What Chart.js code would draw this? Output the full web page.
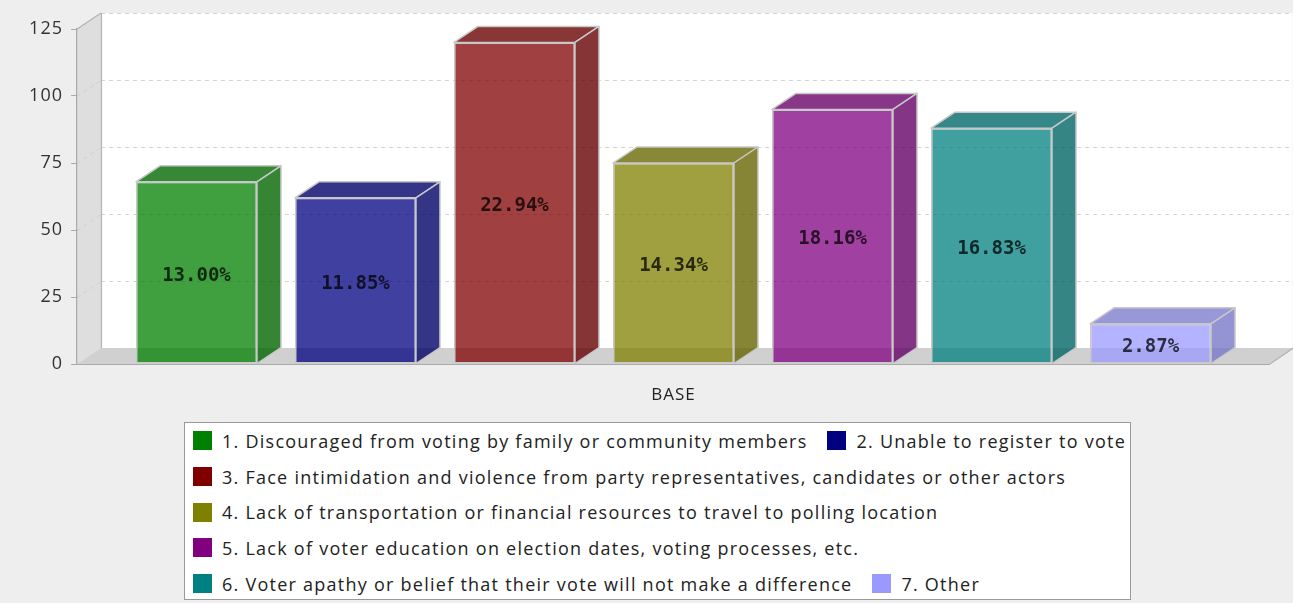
<!DOCTYPE html>
<html>
<head>
<meta charset="utf-8">
<script src="https://cdn.jsdelivr.net/npm/chart.js@4.4.1/dist/chart.umd.min.js"></script>
<style>
  html, body { margin: 0; padding: 0; background: #eeeeee; }
  #wrap { position: relative; width: 1293px; height: 603px; overflow: hidden; }
  #chart { position: absolute; left: 0; top: 0; }
  #legendBox {
    position: absolute; left: 184px; top: 422px; width: 947px; height: 178px;
    background: #fff; border: 1px solid #999; box-sizing: border-box;
  }
  #legend {
    position: absolute; left: 8px; top: 0; width: 980px;
    display: flex; flex-wrap: wrap; align-content: flex-start; column-gap: 20px;
    font-family: "Open Sans", sans-serif; font-size: 18px; letter-spacing: 1.25px; color: #222;
  }
  .item { display: flex; align-items: center; height: 35.7px; white-space: nowrap; }
  .swatch { width: 19px; height: 19px; margin-right: 10px; }
</style>
</head>
<body>
<div id="wrap">
  <canvas id="chart" width="1293" height="412"></canvas>
  <div id="legendBox"><div id="legend"></div></div>
</div>
<script>
const categories = ["BASE"];
const causeLabels = [
  "1. Discouraged from voting by family or community members",
  "2. Unable to register to vote",
  "3. Face intimidation and violence from party representatives, candidates or other actors",
  "4. Lack of transportation or financial resources to travel to polling location",
  "5. Lack of voter education on election dates, voting processes, etc.",
  "6. Voter apathy or belief that their vote will not make a difference",
  "7. Other"
];
const causeCounts = [68, 62, 120, 75, 95, 88, 15];
const causeColors = ["#008000", "#000080", "#800000", "#808000", "#800080", "#008080", "#9999ff"];
const yTicks = [0, 25, 50, 75, 100, 125];

// depth of the fake 3D extrusion
const DX = 24;
const DY = -16;

const total = causeCounts.reduce((s, v) => s + v, 0);

function rgba(hex, a) {
  const n = parseInt(hex.slice(1), 16);
  return `rgba(${n >> 16}, ${(n >> 8) & 255}, ${n & 255}, ${a})`;
}

function poly(ctx, pts) {
  ctx.beginPath();
  ctx.moveTo(pts[0][0], pts[0][1]);
  for (let i = 1; i < pts.length; i++) ctx.lineTo(pts[i][0], pts[i][1]);
  ctx.closePath();
}

const wallsPlugin = {
  id: "walls",
  beforeDraw(chart) {
    const { ctx, chartArea: a } = chart;
    const y = chart.scales.y;
    // axis text is drawn a little spaced out
    ctx.letterSpacing = "1px";
    ctx.save();
    ctx.fillStyle = "#eeeeee";
    ctx.fillRect(0, 0, chart.width, chart.height);

    // back wall
    ctx.fillStyle = "#ffffff";
    ctx.fillRect(a.left + DX, a.top + DY, a.right - a.left, a.bottom - a.top);

    // left wall
    ctx.fillStyle = "#dedede";
    poly(ctx, [[a.left, a.top], [a.left + DX, a.top + DY], [a.left + DX, a.bottom + DY], [a.left, a.bottom]]);
    ctx.fill();

    // floor
    ctx.fillStyle = "#d0d0d0";
    poly(ctx, [[a.left, a.bottom], [a.left + DX, a.bottom + DY], [a.right + DX, a.bottom + DY], [a.right, a.bottom]]);
    ctx.fill();

    // dashed grid lines on the back wall and across the left wall
    ctx.lineWidth = 1;
    ctx.setLineDash([4, 4]);
    yTicks.forEach(v => {
      if (v === 0) return;
      const py = Math.round(y.getPixelForValue(v)) + 0.5;
      ctx.strokeStyle = "#d4d4d4";
      ctx.beginPath();
      ctx.moveTo(a.left + DX, py + DY);
      ctx.lineTo(a.right + DX, py + DY);
      ctx.stroke();
      ctx.strokeStyle = "#cfcfcf";
      ctx.beginPath();
      ctx.moveTo(a.left, py);
      ctx.lineTo(a.left + DX, py + DY);
      ctx.stroke();
    });
    ctx.setLineDash([]);

    // wall edges
    ctx.strokeStyle = "#b4b4b4";
    ctx.lineWidth = 1.2;
    ctx.beginPath();
    ctx.moveTo(a.left, a.top);
    ctx.lineTo(a.left + DX, a.top + DY);
    ctx.moveTo(a.left + DX + 0.5, a.top + DY);
    ctx.lineTo(a.left + DX + 0.5, a.bottom + DY);
    ctx.moveTo(a.right + DX - 0.5, a.top + DY);
    ctx.lineTo(a.right + DX - 0.5, a.bottom + DY);
    ctx.lineTo(a.right, a.bottom);
    ctx.stroke();
    ctx.strokeStyle = "#aaaaaa";
    ctx.beginPath();
    ctx.moveTo(a.left, a.bottom + 0.5);
    ctx.lineTo(a.right, a.bottom + 0.5);
    ctx.stroke();
    ctx.restore();
  },
  afterDatasetsDraw(chart) {
    const { ctx } = chart;
    ctx.save();
    chart.data.datasets.forEach((ds, i) => {
      const bar = chart.getDatasetMeta(i).data[0];
      const x0 = bar.x - bar.width / 2;
      const x1 = bar.x + bar.width / 2;
      const top = bar.y;
      const bottom = bar.base;
      const color = causeColors[i];

      const topFace = [[x0, top], [x0 + DX, top + DY], [x1 + DX, top + DY], [x1, top]];
      const sideFace = [[x1, top], [x1 + DX, top + DY], [x1 + DX, bottom + DY], [x1, bottom]];

      [[topFace, 0.15], [sideFace, 0.17]].forEach(([pts, shade]) => {
        poly(ctx, pts);
        ctx.fillStyle = rgba(color, 0.75);
        ctx.fill();
        ctx.fillStyle = `rgba(0,0,0,${shade})`;
        ctx.fill();
        ctx.strokeStyle = "#c8c8c8";
        ctx.lineWidth = 1.5;
        ctx.lineJoin = "round";
        ctx.stroke();
      });

      // percentage label in the middle of the front face
      const pct = (causeCounts[i] / total * 100).toFixed(2) + "%";
      ctx.letterSpacing = "0px";
      ctx.font = "bold 19px 'DejaVu Sans Mono', monospace";
      ctx.textAlign = "center";
      ctx.textBaseline = "middle";
      ctx.fillStyle = "rgba(0,0,0,0.75)";
      ctx.fillText(pct, bar.x, (top + bottom) / 2 + 3);
    });
    ctx.restore();
  }
};

const datasets = causeLabels.map((label, i) => ({
  label,
  data: [causeCounts[i]],
  backgroundColor: rgba(causeColors[i], 0.75),
  borderColor: "#c8c8c8",
  borderWidth: 1.5,
  borderSkipped: false,
  barPercentage: 0.761,
  categoryPercentage: 0.933
}));

new Chart(document.getElementById("chart"), {
  type: "bar",
  data: { labels: categories, datasets },
  options: {
    responsive: false,
    animation: false,
    layout: { padding: { top: 29, right: 23, left: 0, bottom: 0 } },
    plugins: {
      legend: { display: false },
      tooltip: { enabled: false }
    },
    scales: {
      x: {
        grid: { display: false },
        border: { display: false },
        ticks: {
          padding: 13,
          color: "#222",
          font: { family: "'Open Sans', sans-serif", size: 17 }
        },
        afterFit(scale) { scale.height = 48; }
      },
      y: {
        min: 0,
        max: 125,
        ticks: {
          stepSize: 25,
          padding: 8,
          color: "#333",
          font: { family: "'Open Sans', sans-serif", size: 18 }
        },
        grid: { drawOnChartArea: false, drawTicks: true, tickLength: 6, color: "#aaaaaa" },
        border: { display: true, color: "#aaaaaa", width: 1.2 },
        afterFit(scale) { scale.width = 77; }
      }
    }
  },
  plugins: [wallsPlugin]
});

// legend laid out as wrapping rows inside a bordered box
const legendEl = document.getElementById("legend");
causeLabels.forEach((label, i) => {
  const item = document.createElement("div");
  item.className = "item";
  const sw = document.createElement("span");
  sw.className = "swatch";
  sw.style.background = causeColors[i];
  const txt = document.createElement("span");
  txt.textContent = label;
  item.appendChild(sw);
  item.appendChild(txt);
  legendEl.appendChild(item);
});
</script>
</body>
</html>
